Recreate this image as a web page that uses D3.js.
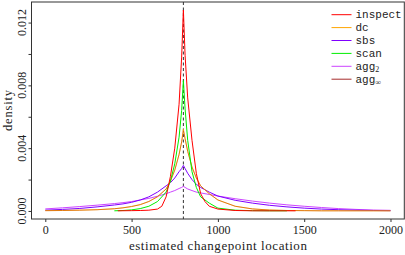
<!DOCTYPE html>
<meta charset="utf-8">
<script src="https://d3js.org/d3.v7.min.js"></script>
<style>
  body { margin: 0; background: #fff; }
  text { font-family: "Liberation Serif", serif; fill: #222; }
  .mono { font-family: "Liberation Mono", monospace; }
</style>
<svg id="vis"></svg>
<script>
    // chart size (plot box in pixels)
    var W = 405, H = 255;
    var box = {left: 31.5, right: 404.3, top: 2, bottom: 219};

    // data
    var trueCp = 800;

    var grid = [0, 100, 200, 300, 400, 450, 500, 550, 600, 650, 700, 725, 750, 775, 790, 800,
        810, 825, 850, 875, 900, 950, 1000, 1100, 1200, 1300, 1400, 1500, 1600, 1700, 1800, 1900, 2000];

    var dc = [0.00002, 0.00003, 0.00005, 0.00008, 0.00014, 0.0002, 0.00028, 0.0004, 0.0006, 0.0009,
        0.0014, 0.0019, 0.0026, 0.0036, 0.0044, 0.0052, 0.0046, 0.0038, 0.0028, 0.0021, 0.0016, 0.0011,
        0.0007, 0.0003, 0.00013, 0.00006, 0.00003, 0.00002, 0.00001, 0.00001, 0.00001, 0.00001, 0.00001];

    var aggInf = [0.00002, 0.00003, 0.00005, 0.00008, 0.00014, 0.0002, 0.00029, 0.00041, 0.00061, 0.00092,
        0.0014, 0.0019, 0.0026, 0.0036, 0.0044, 0.0051, 0.0046, 0.0038, 0.0028, 0.0021, 0.0016, 0.0011,
        0.0007, 0.0003, 0.00013, 0.00006, 0.00003, 0.00002, 0.00001, 0.00001, 0.00001, 0.00001, 0.00001];

    var sbs = [0.00005, 0.0001, 0.00016, 0.00026, 0.00038, 0.00045, 0.00055, 0.0007, 0.0009, 0.0012,
        0.0016, 0.0018, 0.0021, 0.0025, 0.0027, 0.0029, 0.0027, 0.0024, 0.002, 0.0017, 0.0015, 0.0012,
        0.00095, 0.00068, 0.0005, 0.00036, 0.00026, 0.00018, 0.00012, 0.00008, 0.00005, 0.00003, 0.00002];

    var agg2 = [0.00013, 0.0002, 0.00028, 0.00037, 0.00047, 0.00053, 0.0006, 0.0007, 0.0008, 0.00094,
        0.0011, 0.0012, 0.0013, 0.00143, 0.0015, 0.00157, 0.0015, 0.0014, 0.0013, 0.0012, 0.00115, 0.00105,
        0.00095, 0.00078, 0.00063, 0.0005, 0.00039, 0.0003, 0.00022, 0.00015, 0.0001, 0.00006, 0.00004];

    var scanX = [400, 450, 500, 550, 600, 650, 700, 725, 750, 775, 790, 800, 810, 825, 850, 875, 900,
        950, 1000, 1100, 1200, 1300, 1400];
    var scan = [0.00001, 0.00003, 0.00007, 0.00015, 0.0003, 0.0006, 0.0012, 0.0019, 0.003, 0.0047,
        0.0064, 0.0083, 0.0065, 0.0045, 0.0025, 0.0015, 0.0009, 0.0005, 0.00018, 0.00005, 0.00002,
        0.00001, 0.00001];

    var inspectX = [420, 500, 550, 600, 650, 675, 700, 725, 750, 775, 790, 800, 810, 825, 850, 875,
        900, 925, 950, 1000, 1100, 1200, 1300, 1450];
    var inspect = [0.00001, 0.00002, 0.00003, 0.00005, 0.00012, 0.0003, 0.0009, 0.0022, 0.004, 0.0068,
        0.0098, 0.0128, 0.0099, 0.0072, 0.0045, 0.0024, 0.0011, 0.0006, 0.0003, 0.00012, 0.00003,
        0.00001, 0.00001, 0.00001];

    var xTicks = [0, 500, 1000, 1500, 2000];
    var yTicks = [0, 0.002, 0.004, 0.006, 0.008, 0.010, 0.012];
    var yLabels = [0, 0.004, 0.008, 0.012];

    var names = ['inspect', 'dc', 'sbs', 'scan', 'agg', 'agg'];
    var subs = ['', '', '', '', '2', '\u221e'];
    var colors = ['#ff0000', '#ffa500', '#7f00ff', '#00ee00', '#cc44ff', '#a52a2a'];

    var svg = d3.select('#vis').attr('width', W).attr('height', H);

    var x = d3.scaleLinear().domain([-80, 2080]).range([box.left, box.right]);
    var y = d3.scaleLinear().domain([-0.000512, 0.01331]).range([box.bottom, box.top]);

    // frame
    svg.append('rect')
        .attr('x', box.left).attr('y', box.top)
        .attr('width', box.right - box.left).attr('height', box.bottom - box.top)
        .attr('fill', 'none').attr('stroke', '#333').attr('stroke-width', 1);

    // x axis
    var xa = svg.append('g')
        .attr('transform', 'translate(0,' + box.bottom + ')')
        .call(d3.axisBottom(x).tickValues(xTicks).tickSize(3).tickPadding(3).tickFormat(d3.format('d')));
    xa.select('.domain').remove();
    xa.selectAll('line').attr('stroke', '#333');
    xa.selectAll('text').style('font-family', '"Liberation Serif", serif').style('font-size', '12px').attr('fill', '#222');

    // y axis with rotated labels
    var ya = svg.append('g')
        .attr('transform', 'translate(' + box.left + ',0)')
        .call(d3.axisLeft(y).tickValues(yTicks).tickSize(3).tickFormat(''));
    ya.select('.domain').remove();
    ya.selectAll('line').attr('stroke', '#333');
    svg.append('g').selectAll('text')
        .data(yLabels)
        .enter()
        .append('text')
        .attr('transform', function (d) {
            return 'translate(25.5,' + y(d) + ') rotate(-90)';
        })
        .attr('text-anchor', 'middle')
        .style('font-size', '12px')
        .text(function (d) { return d3.format('.3f')(d); });

    // axis titles
    svg.append('text')
        .attr('x', (x(0) + x(2000)) / 2).attr('y', 250)
        .attr('text-anchor', 'middle')
        .attr('textLength', 178)
        .style('font-size', '13px')
        .text('estimated changepoint location');
    svg.append('text')
        .attr('transform', 'translate(11.5,' + (box.top + box.bottom) / 2 + ') rotate(-90)')
        .attr('text-anchor', 'middle')
        .attr('textLength', 41)
        .style('font-size', '12.5px')
        .text('density');

    // dashed line at the true changepoint
    svg.append('line')
        .attr('x1', x(trueCp)).attr('x2', x(trueCp))
        .attr('y1', box.top).attr('y2', box.bottom)
        .attr('stroke', '#333').attr('stroke-width', 1)
        .attr('stroke-dasharray', '3,2.5');

    var line = d3.line()
        .x(function (d) { return x(d[0]); })
        .y(function (d) { return y(d[1]); });

    function draw(xs, ys, col, op) {
        svg.append('path')
            .datum(d3.zip(xs, ys))
            .attr('d', line)
            .attr('fill', 'none')
            .attr('stroke', col)
            .attr('stroke-width', 1)
            .attr('stroke-opacity', op || 1);
    }

    draw(grid, agg2, colors[4]);
    draw(grid, sbs, colors[2]);
    draw(grid, dc, colors[1]);
    draw(grid, aggInf, colors[5], 0.35);
    draw(scanX, scan, colors[3]);
    draw(inspectX, inspect, colors[0]);

    // legend
    var leg = svg.append('g');
    names.forEach(function (n, i) {
        var ly = 14.7 + i * 12.9;
        leg.append('line')
            .attr('x1', 331.5).attr('x2', 351.5)
            .attr('y1', ly).attr('y2', ly)
            .attr('stroke', colors[i]).attr('stroke-width', 1);
        var t = leg.append('text')
            .attr('class', 'mono')
            .attr('x', 355.5).attr('y', ly + 3.5)
            .style('font-size', '11px')
            .text(n);
        if (subs[i]) {
            t.append('tspan')
                .attr('dy', 2.5)
                .style('font-family', '"Liberation Serif", serif')
                .style('font-size', '8px')
                .text(subs[i]);
        }
    });
</script>
